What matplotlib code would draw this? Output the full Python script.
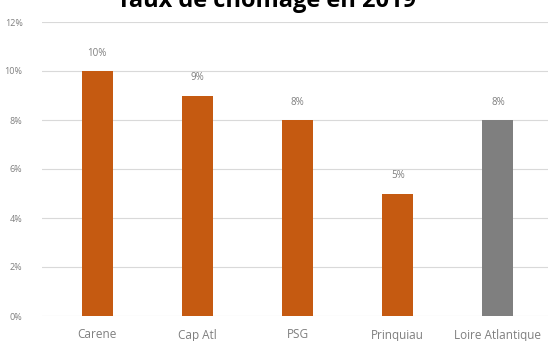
import matplotlib
matplotlib.use("Agg")
from matplotlib import pyplot as plt

# data
categories = ["Carene", "Cap Atl", "PSG", "Prinquiau", "Loire Atlantique"]
values = [10, 9, 8, 5, 8]
colors = ["#C55A11", "#C55A11", "#C55A11", "#C55A11", "#7F7F7F"]
yticks = [0, 2, 4, 6, 8, 10, 12]

plt.rcParams['font.family'] = ['Open Sans', 'DejaVu Sans']

fig = plt.figure(figsize=(5.48, 3.41), dpi=100)
ax = fig.add_axes([42 / 548, 1 - 316 / 341, 1 - 42 / 548, (316 - 22) / 341])

x = range(len(categories))
ax.bar(x, values, width=0.31, color=colors, zorder=3)
for i, v in enumerate(values):
    ax.text(i, v + 0.5, "%d%%" % v, ha="center", va="bottom",
            fontsize=7, color="#7F7F7F")

ax.set_ylim(0, 12)
ax.set_xlim(-0.55, 4.5)
ax.set_yticks(yticks)
ax.set_yticklabels(["%d%%" % t for t in yticks])
ax.set_xticks(list(x))
ax.set_xticklabels(categories)
ax.tick_params(axis="both", length=0, colors="#7F7F7F")
ax.tick_params(axis="x", pad=9, labelsize=8.5)
ax.tick_params(axis="y", pad=14, labelsize=6.5)
ax.grid(axis="y", color="#D9D9D9", linewidth=0.8, zorder=0)
for s in ax.spines.values():
    s.set_visible(False)

fig.text(0.487, 1 - 7 / 341, "Taux de chômage en 2019", ha="center",
         va="baseline", fontsize=17, fontweight="bold", color="black")

fig.savefig("out.png", dpi=100)
